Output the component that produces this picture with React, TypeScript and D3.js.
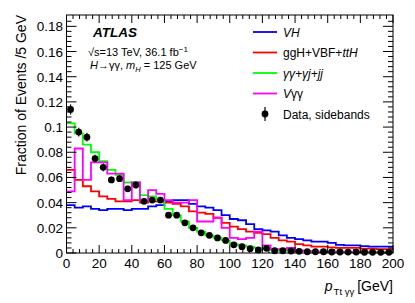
import * as d3 from "d3";

// bin edges: 40 bins of 5 GeV, 0..200
const binEdges = d3.range(0, 205, 5);

const vhValues = [
  0.038, 0.036, 0.037, 0.035, 0.034, 0.035, 0.035, 0.034, 0.035, 0.035,
  0.037, 0.038, 0.041, 0.042, 0.042, 0.039, 0.037, 0.036, 0.034, 0.030,
  0.027, 0.026, 0.023, 0.019, 0.018, 0.017, 0.014, 0.012, 0.011, 0.010,
  0.009, 0.009, 0.008, 0.0065, 0.006, 0.006, 0.0055, 0.005, 0.005, 0.005,
];
const ggHValues = [
  0.066, 0.058, 0.053, 0.049, 0.045, 0.043, 0.041, 0.041, 0.042, 0.040,
  0.041, 0.041, 0.040, 0.039, 0.037, 0.033, 0.032, 0.031, 0.028, 0.024,
  0.021, 0.019, 0.017, 0.016, 0.015, 0.012, 0.010, 0.009, 0.007, 0.006,
  0.005, 0.005, 0.0045, 0.004, 0.004, 0.004, 0.0035, 0.0035, 0.003, 0.003,
];
const gammaValues = [
  0.103, 0.095, 0.086, 0.080, 0.073, 0.066, 0.062, 0.056, 0.056, 0.046,
  0.045, 0.042, 0.035, 0.030, 0.025, 0.020, 0.017, 0.014, 0.012, 0.010,
  0.007, 0.006, 0.005, 0.004, 0.003, 0.0025, 0.002, 0.002, 0.0015, 0.0015,
  0.001, 0.001, 0.001, 0.001, 0.001, 0.001, 0.001, 0.001, 0.001, 0.001,
];
const vggValues = [
  0.049, 0.083, 0.058, 0.072, 0.072, 0.063, 0.063, 0.042, 0.056, 0.041,
  0.050, 0.047, 0.042, 0.040, 0.040, 0.042, 0.025, 0.025, 0.028, 0.020,
  0.012, 0.011, 0.012, 0.017, 0.006, 0.003, 0.003, 0.004, 0.002, 0.0015,
  0.001, 0.001, 0.001, 0.0008, 0.0008, 0.0006, 0.0006, 0.0005, 0.0005, 0.0005,
];
const dataValues = [
  0.114, 0.096, 0.092, 0.075, 0.068, 0.058, 0.059, 0.051, 0.054, 0.041,
  0.042, 0.042, 0.030, 0.030, 0.024, 0.020, 0.016, 0.014, 0.012, 0.010,
  0.0065, 0.005, 0.0034, 0.0024, 0.0037, 0.0018, 0.0018, 0.0016, 0.0013, 0.001,
  0.001, 0.001, 0.0008, 0.0008, 0.0007, 0.0007, 0.0006, 0.0006, 0.0005, 0.0005,
];
const dataErrors = [
  0.004, 0.0035, 0.0035, 0.003, 0.003, 0.0025, 0.0025, 0.0025, 0.0025, 0.002,
  0.002, 0.002, 0.0018, 0.0018, 0.0015, 0.0015, 0.0012, 0.0012, 0.001, 0.001,
  0.0008, 0.0008, 0.0006, 0.0005, 0.0006, 0.0004, 0.0004, 0.0004, 0.0003, 0.0003,
  0.0003, 0.0003, 0.0002, 0.0002, 0.0002, 0.0002, 0.0002, 0.0002, 0.0002, 0.0002,
];

const xTicks = d3.range(0, 220, 20);
const yTicks = [0, 0.02, 0.04, 0.06, 0.08, 0.1, 0.12, 0.14, 0.16, 0.18];
const yTickLabels = ["0", "0.02", "0.04", "0.06", "0.08", "0.1", "0.12", "0.14", "0.16", "0.18"];

const series = [
  { key: "vh", values: vhValues, color: "#0000ff" },
  { key: "ggh", values: ggHValues, color: "#ff0000" },
  { key: "gg", values: gammaValues, color: "#00ff00" },
  { key: "vgg", values: vggValues, color: "#ff00ff" },
];

const width = 415;
const height = 303;
const marginLeft = 66.5;
const marginRight = 22;
const marginTop = 15;
const marginBottom = 50;
const font = "'Liberation Sans', Arial, Helvetica, sans-serif";

export default function App() {
  const x = d3.scaleLinear().domain([0, 200]).range([marginLeft, width - marginRight]);
  const y = d3.scaleLinear().domain([0, 0.189]).range([height - marginBottom, marginTop]);

  const x0 = x(0), x1 = x(200), y0 = y(0), y1 = marginTop;

  const stepLine = (values: number[]) => {
    const pts: [number, number][] = [];
    values.forEach((v, i) => {
      pts.push([x(binEdges[i]), y(v)]);
      pts.push([x(binEdges[i + 1]), y(v)]);
    });
    return d3.line()(pts) || "";
  };

  const xMinor = d3.range(0, 201, 4).filter((d) => d % 20 !== 0);
  const yMinor = d3.range(0, 47).map((i) => i * 0.004).filter((d) => y(d) >= y1 && Math.abs(d / 0.02 - Math.round(d / 0.02)) > 1e-6);

  const legendX = 253;
  const legendRows = [32, 52.5, 73, 93.5, 114];

  return (
    <svg width={width} height={height} style={{ position: "absolute", left: 0, top: 0, background: "#fff" }} fontFamily={font}>
      {/* histograms */}
      {series.map((s) => (
        <path key={s.key} d={stepLine(s.values)} fill="none" stroke={s.color} strokeWidth={1.8} />
      ))}

      {/* data points */}
      {dataValues.map((v, i) => {
        const cx = x((binEdges[i] + binEdges[i + 1]) / 2);
        return (
          <g key={i}>
            <line x1={cx} x2={cx} y1={y(v + dataErrors[i])} y2={y(Math.max(0, v - dataErrors[i]))} stroke="#000" strokeWidth={1.2} />
            <circle cx={cx} cy={y(v)} r={3.4} fill="#000" />
          </g>
        );
      })}

      {/* frame */}
      <rect x={x0} y={y1} width={x1 - x0} height={y0 - y1} fill="none" stroke="#000" strokeWidth={1} />

      {/* x ticks */}
      {xTicks.map((t) => (
        <g key={"xt" + t}>
          <line x1={x(t)} x2={x(t)} y1={y0} y2={y0 - 8} stroke="#000" />
          <line x1={x(t)} x2={x(t)} y1={y1} y2={y1 + 8} stroke="#000" />
          <text x={x(t)} y={268} textAnchor="middle" fontSize={13.5}>{t}</text>
        </g>
      ))}
      {xMinor.map((t) => (
        <g key={"xm" + t}>
          <line x1={x(t)} x2={x(t)} y1={y0} y2={y0 - 4} stroke="#000" />
          <line x1={x(t)} x2={x(t)} y1={y1} y2={y1 + 4} stroke="#000" />
        </g>
      ))}

      {/* y ticks */}
      {yTicks.map((t, i) => (
        <g key={"yt" + t}>
          <line x1={x0} x2={x0 + 10} y1={y(t)} y2={y(t)} stroke="#000" />
          <line x1={x1} x2={x1 - 10} y1={y(t)} y2={y(t)} stroke="#000" />
          <text x={63} y={y(t) + 5} textAnchor="end" fontSize={13.5}>{yTickLabels[i]}</text>
        </g>
      ))}
      {yMinor.map((t) => (
        <g key={"ym" + t}>
          <line x1={x0} x2={x0 + 5} y1={y(t)} y2={y(t)} stroke="#000" />
          <line x1={x1} x2={x1 - 5} y1={y(t)} y2={y(t)} stroke="#000" />
        </g>
      ))}

      {/* axis titles */}
      <text transform={`translate(26,${y1}) rotate(-90)`} textAnchor="end" fontSize={14}>
        Fraction of Events /5 GeV
      </text>
      <text x={x1} y={291} textAnchor="end" fontSize={14}>
        <tspan fontStyle="italic">p</tspan>
        <tspan fontSize={9.5} dy={4} dx={1}>Tt γγ</tspan>
        <tspan dy={-4} dx={3}>[GeV]</tspan>
      </text>

      {/* ATLAS labels */}
      <text x={93} y={36.5} fontSize={13.5} fontWeight="bold" fontStyle="italic">ATLAS</text>
      <text x={88} y={56} fontSize={11}>
        √s=13 TeV, 36.1 fb<tspan fontSize={8} dy={-4}>−1</tspan>
      </text>
      <text x={90} y={68.5} fontSize={11}>
        <tspan fontStyle="italic">H</tspan>→γγ, <tspan fontStyle="italic">m</tspan>
        <tspan fontSize={7.5} dy={3} fontStyle="italic">H</tspan>
        <tspan dy={-3}> = 125 GeV</tspan>
      </text>

      {/* legend */}
      {series.map((s, i) => (
        <line key={"lg" + s.key} x1={legendX} x2={legendX + 24} y1={legendRows[i]} y2={legendRows[i]} stroke={s.color} strokeWidth={1.8} />
      ))}
      <text x={283} y={legendRows[0] + 4.5} fontSize={12} fontStyle="italic">VH</text>
      <text x={283} y={legendRows[1] + 4.5} fontSize={12}>
        ggH+VBF+<tspan fontStyle="italic">ttH</tspan>
      </text>
      <text x={283} y={legendRows[2] + 4.5} fontSize={12} fontStyle="italic">γγ+γj+jj</text>
      <text x={283} y={legendRows[3] + 4.5} fontSize={12}>
        <tspan fontStyle="italic">V</tspan>γγ
      </text>
      <line x1={legendX + 12} x2={legendX + 12} y1={legendRows[4] - 7} y2={legendRows[4] + 7} stroke="#000" strokeWidth={1.2} />
      <circle cx={legendX + 12} cy={legendRows[4]} r={3.4} fill="#000" />
      <text x={283} y={legendRows[4] + 4.5} fontSize={12}>Data, sidebands</text>
    </svg>
  );
}
